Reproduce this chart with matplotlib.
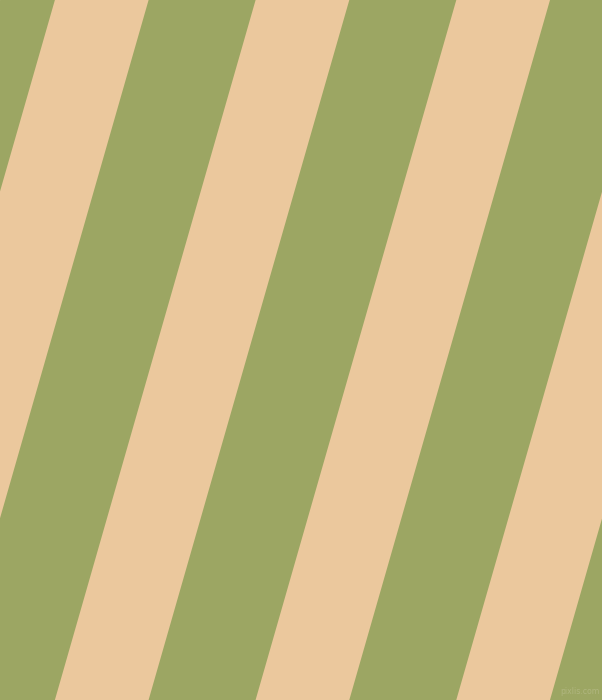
import numpy as np
import matplotlib
matplotlib.use("Agg")
import matplotlib.pyplot as plt

# Stripe pattern description
colors = {"green": "#9ca663", "peach": "#ebc89d"}
stripe_angle_deg = 74.0           # angle of stripes from horizontal
green_width = 107.0               # horizontal width of green stripes (px)
peach_width = 93.7                # horizontal width of peach stripes (px)
first_peach_left_top = 54.9       # x of first green->peach boundary on top edge
watermark = "pixlis.com"

W, H = 602, 700
fig = plt.figure(figsize=(W / 100, H / 100), dpi=100)
ax = fig.add_axes([0, 0, 1, 1])
ax.set_xlim(0, W)
ax.set_ylim(H, 0)
ax.axis("off")
ax.add_patch(plt.Rectangle((0, 0), W, H, color=colors["green"], zorder=0))

slope = 1.0 / np.tan(np.radians(stripe_angle_deg))  # dx per dy (going down, x shifts left)
period = green_width + peach_width
for k in range(-3, 8):
    xl = first_peach_left_top + k * period
    xr = xl + peach_width
    xs = [xl, xr, xr - slope * H, xl - slope * H]
    ys = [0, 0, H, H]
    ax.fill(xs, ys, color=colors["peach"], lw=0, zorder=1)

ax.text(600, 692, watermark, ha="right", va="center", fontsize=6.2,
        fontstretch="condensed", color="#b0b67f", family="DejaVu Sans", zorder=2)

fig.savefig("out.png", dpi=100)
